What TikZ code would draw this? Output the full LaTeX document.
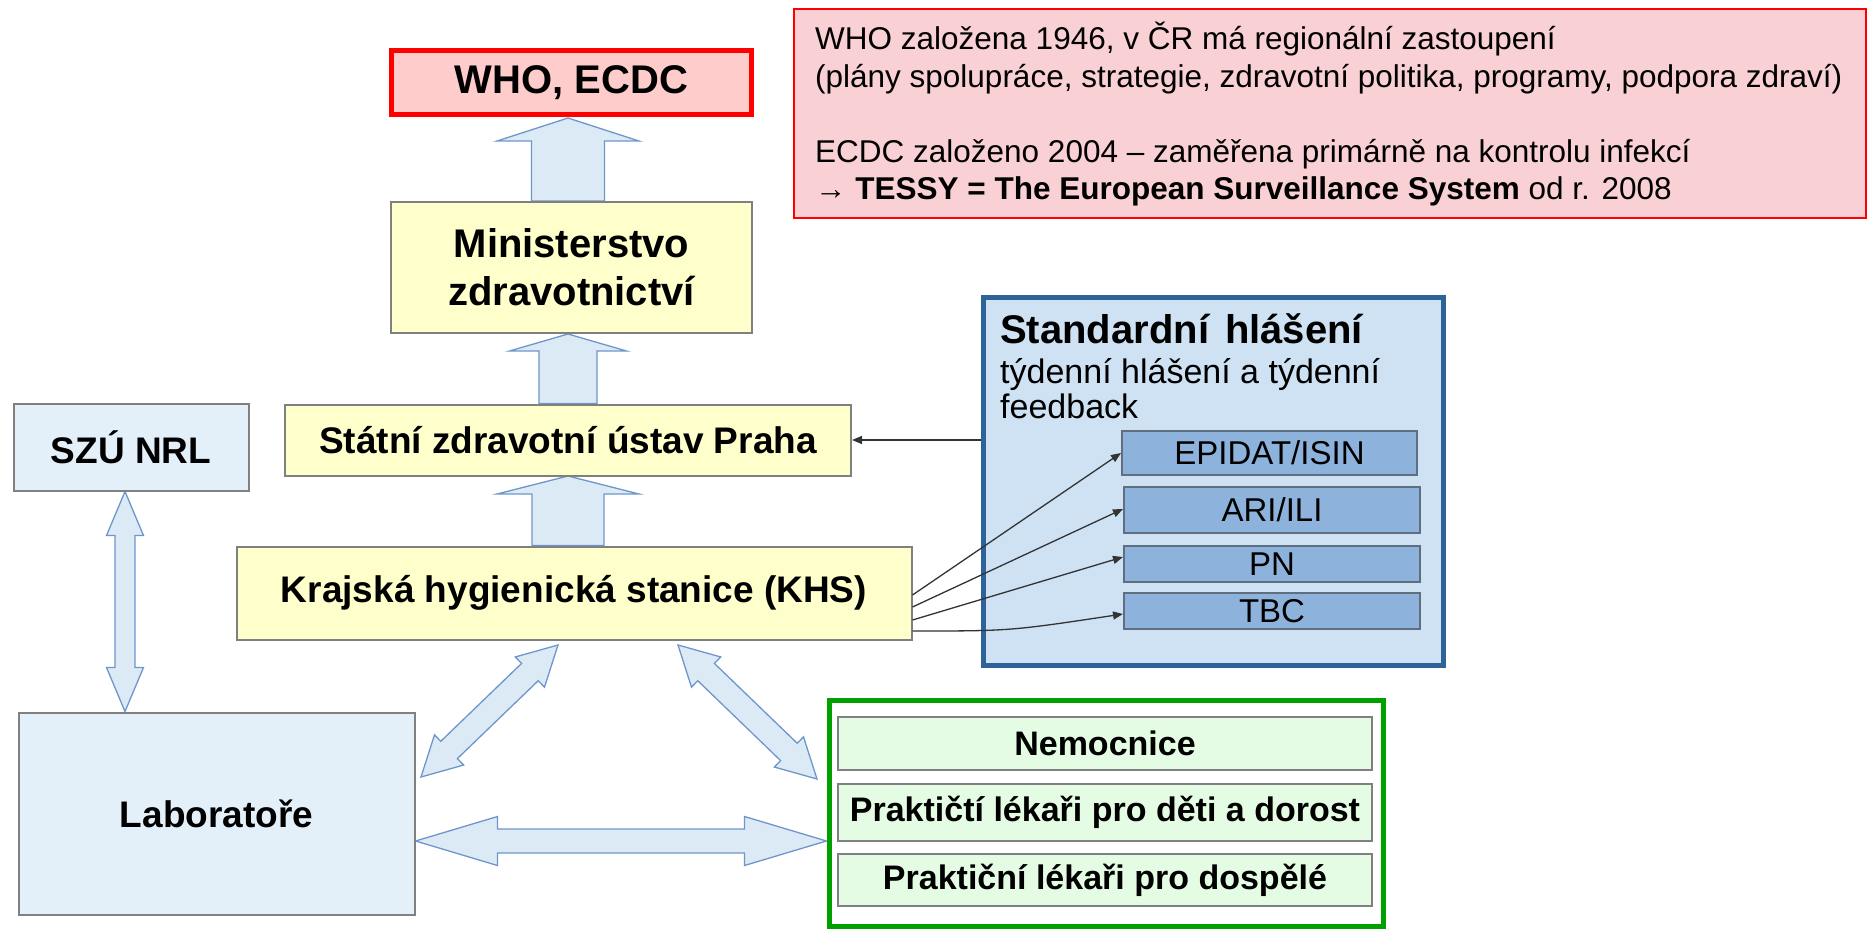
\documentclass[tikz,border=0pt]{standalone}
\usepackage{fontspec}
\setmainfont{Liberation Sans}
\usetikzlibrary{calc,arrows.meta,backgrounds}
\definecolor{yelfill}{HTML}{FFFFCC}
\definecolor{boxgrey}{HTML}{808080}
\definecolor{ltblue}{HTML}{E3EFF9}
\definecolor{arrfill}{HTML}{DCEAF6}
\definecolor{arrdraw}{HTML}{6E96CB}
\definecolor{stdfill}{HTML}{CFE2F3}
\definecolor{stddraw}{HTML}{2E6399}
\definecolor{subfill}{HTML}{8DB3DD}
\definecolor{subdraw}{HTML}{5F6F80}
\definecolor{grnfill}{HTML}{E3FCE3}
\definecolor{grndraw}{HTML}{00A000}
\definecolor{whofill}{HTML}{FFCCCC}
\definecolor{infofill}{HTML}{F9D0D4}
\definecolor{redb}{HTML}{FF0000}
\definecolor{linegrey}{HTML}{333333}

\newcommand{\myfs}[1]{\fontsize{#1}{#1}\selectfont}

\tikzset{
  box/.style={rectangle, inner sep=0pt, align=center},
  yelbox/.style={box, fill=yelfill, draw=boxgrey, line width=2pt, font=\myfs{37}\bfseries},
  bluebox/.style={box, fill=ltblue, draw=boxgrey, line width=2pt, font=\myfs{37}\bfseries},
  whobox/.style={box, fill=whofill, draw=redb, line width=5pt, font=\myfs{40}\bfseries},
  infobox/.style={box, fill=infofill, draw=redb, line width=2pt},
  infotext/.style={inner sep=0pt, font=\myfs{31.5}},
  stdbox/.style={box, fill=stdfill, draw=stddraw, line width=5pt},
  subbox/.style={box, fill=subfill, draw=subdraw, line width=2pt, font=\myfs{33}},
  grnbox/.style={box, fill=white, draw=grndraw, line width=5pt},
  grnsub/.style={box, fill=grnfill, draw=boxgrey, line width=2pt, font=\myfs{34}\bfseries},
  blockarr/.style={fill=arrfill, draw=arrdraw, line width=1.3pt, line join=miter},
  feed/.style={draw=linegrey, line width=1.3pt, -{Triangle[length=10pt,width=8pt]}},
}

% double block arrow between two points: #1 from, #2 to, #3 shaft half width, #4 head half width, #5 head length
\newcommand{\dblarrow}[5]{%
  \path let \p1=(#1), \p2=(#2) in \pgfextra{%
    \pgfmathsetmacro\baang{atan2(\y2-\y1,\x2-\x1)}%
    \pgfmathsetmacro\balen{veclen(\x2-\x1,\y2-\y1)}%
    \pgfmathsetmacro\babase{\balen-#5}%
    \xdef\baangG{\baang}\xdef\balenG{\balen}\xdef\babaseG{\babase}};
  \begin{scope}[shift={(#1)}, rotate=\baangG]
    \draw[blockarr] (0pt,0pt) -- (#5pt,#4pt) -- (#5pt,#3pt) -- (\babaseG pt,#3pt)
      -- (\babaseG pt,#4pt) -- (\balenG pt,0pt) -- (\babaseG pt,-#4pt) -- (\babaseG pt,-#3pt)
      -- (#5pt,-#3pt) -- (#5pt,-#4pt) -- cycle;
  \end{scope}}
% single block arrow from tail #1 to tip #2
\newcommand{\sglarrow}[5]{%
  \path let \p1=(#1), \p2=(#2) in \pgfextra{%
    \pgfmathsetmacro\baang{atan2(\y2-\y1,\x2-\x1)}%
    \pgfmathsetmacro\balen{veclen(\x2-\x1,\y2-\y1)}%
    \pgfmathsetmacro\babase{\balen-#5}%
    \xdef\baangG{\baang}\xdef\balenG{\balen}\xdef\babaseG{\babase}};
  \begin{scope}[shift={(#1)}, rotate=\baangG]
    \draw[blockarr] (0pt,-#3pt) -- (\babaseG pt,-#3pt) -- (\babaseG pt,-#4pt) -- (\balenG pt,0pt)
      -- (\babaseG pt,#4pt) -- (\babaseG pt,#3pt) -- (0pt,#3pt) -- cycle;
  \end{scope}}

\begin{document}
\begin{tikzpicture}[x=1pt, y=-1pt]
\useasboundingbox (0,0) rectangle (1869,931);

% info box
\node[infobox, minimum width=1072pt, minimum height=208pt] (info) at (1330,113.5) {};
\node[infotext, anchor=base west] (i1) at (815,50) {WHO založena 1946, v ČR má regionální zastoupení};
\node[infotext, anchor=base west] (i2) at (815,87.5) {(plány spolupráce, strategie, zdravotní politika, programy, podpora zdraví)};
\node[infotext, anchor=base west] (i3) at (815,163) {ECDC založeno 2004 – zaměřena primárně na kontrolu infekcí};
\node[infotext, anchor=base west] (i4) at (815,200) {→ \textbf{TESSY = The European Surveillance System} od r. 2008};

% main chain
\node[whobox, minimum width=360pt, minimum height=64pt] (who) at (571.5,82.5) {WHO, ECDC};
\node[yelbox, minimum width=361pt, minimum height=131pt, font=\fontsize{40}{48}\selectfont\bfseries] (min) at (571.5,267.5) {Ministerstvo\\zdravotnictví};
\node[yelbox, minimum width=566pt, minimum height=71pt] (statni) at (568,440) {Státní zdravotní ústav Praha};
\node[yelbox, minimum width=675pt, minimum height=93pt] (khs) at (574,593) {Krajská hygienická stanice (KHS)};
\node[bluebox, minimum width=235pt, minimum height=87pt] (szu) at (131,447) {SZÚ NRL};
\node[bluebox, minimum width=396pt, minimum height=202pt] (lab) at (216.5,813.5) {Laboratoře};

% standard reporting box
\node[stdbox, minimum width=460pt, minimum height=368pt] (std) at (1213,481) {};
\node[inner sep=0pt, anchor=base west, font=\myfs{40}\bfseries] (st1) at (1000,343) {Standardní\hspace{16pt}hlášení};
\node[inner sep=0pt, anchor=base west, font=\myfs{34}] (st2) at (1000,383) {týdenní hlášení a týdenní};
\node[inner sep=0pt, anchor=base west, font=\myfs{34}] (st3) at (1000,418) {feedback};
\node[subbox, minimum width=295pt, minimum height=44pt] (epidat) at (1269.5,453) {EPIDAT/ISIN};
\node[subbox, minimum width=296pt, minimum height=46pt] (ari) at (1272,510) {ARI/ILI};
\node[subbox, minimum width=296pt, minimum height=36pt] (pn) at (1272,564) {PN};
\node[subbox, minimum width=296pt, minimum height=36pt] (tbc) at (1272,611) {TBC};

% green box
\node[grnbox, minimum width=554pt, minimum height=226pt] (grn) at (1106,813) {};
\node[grnsub, minimum width=534pt, minimum height=53pt] (nem) at (1105,743.5) {Nemocnice};
\node[grnsub, minimum width=534pt, minimum height=57pt] (pdd) at (1105,812.5) {Praktičtí lékaři pro děti a dorost};
\node[grnsub, minimum width=534pt, minimum height=52pt] (pdo) at (1105,880) {Praktiční lékaři pro dospělé};

% block arrows (behind boxes)
\begin{scope}[on background layer]
  \coordinate (a1t) at (568,0 |- min.north);
  \coordinate (a1h) at (568,118);
  \sglarrow{a1t}{a1h}{36.5}{71}{23}
  \coordinate (a2t) at (568,0 |- statni.north);
  \coordinate (a2h) at (568,334);
  \sglarrow{a2t}{a2h}{29}{58.5}{17}
  \coordinate (a3t) at (568,0 |- khs.north);
  \coordinate (a3h) at (568,476);
  \sglarrow{a3t}{a3h}{36}{71}{18}
  \coordinate (b1a) at (125,0 |- szu.south);
  \coordinate (b1b) at (125,0 |- lab.north);
  \dblarrow{b1a}{b1b}{10}{18.5}{44}
  \coordinate (d1a) at (558,645);
  \coordinate (d1b) at (421,777);
  \dblarrow{d1a}{d1b}{12}{21}{39}
  \coordinate (d2a) at (678,645);
  \coordinate (d2b) at (817,779);
  \dblarrow{d2a}{d2b}{12}{21}{39}
  \coordinate (h1a) at (lab.east |- 0,841);
  \coordinate (h1b) at (grn.west |- 0,841);
  \dblarrow{h1a}{h1b}{12}{24.5}{82}
\end{scope}

% thin connectors
\draw[feed] (std.west |- statni.east) -- (statni.east);
\draw[feed] ($(khs.east)+(0,2)$) -- (epidat.west);
\draw[feed] ($(khs.east)+(0,14)$) -- ($(ari.west)+(0,-1)$);
\draw[feed] ($(khs.east)+(0,27)$) -- ($(pn.west)+(0,-7)$);
\draw[feed] ($(khs.east)+(0,38)$) .. controls (1010,631) .. ($(tbc.west)+(0,3)$);
\end{tikzpicture}
\end{document}
